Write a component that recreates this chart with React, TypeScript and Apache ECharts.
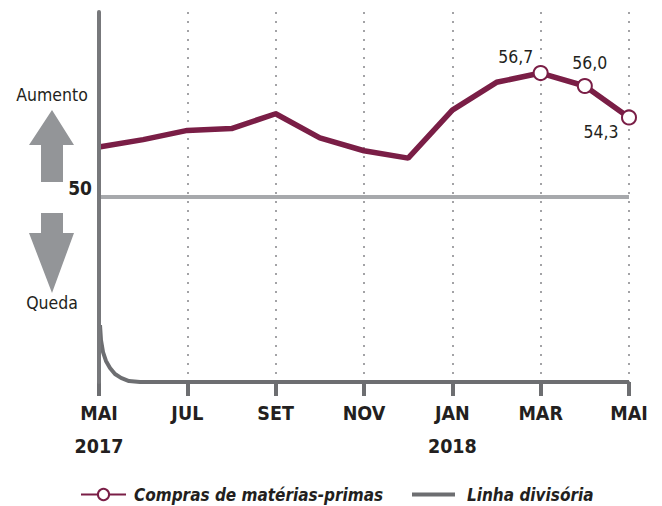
import React, { useEffect, useRef } from "react";
import * as echarts from "echarts";

const months = ["MAI\n2017", "JUN", "JUL", "AGO", "SET", "OUT", "NOV", "DEZ", "JAN\n2018", "FEV", "MAR", "ABR", "MAI"];
const compras = [52.7, 53.1, 53.6, 53.7, 54.5, 53.2, 52.5, 52.1, 54.7, 56.2, 56.7, 56.0, 54.3];
const labeledIdx = [10, 11, 12];
const labelOffsets: Record<number, [number, number]> = { 10: [-25, -16], 11: [5, -23], 12: [-28, 15] };
const divX = [0.023, 0.045, 0.091, 0.158, 0.249, 0.362, 0.498, 0.679, 0.928, 12];
const divY = [43.08, 42.27, 41.62, 41.14, 40.76, 40.43, 40.22, 40.05, 40.0, 40.0];
const baseLevel = 50;
const baseFromX = -1.77;

const FONT = "'Liberation Sans Narrow', 'DejaVu Sans Condensed', sans-serif";
const PURPLE = "#7a1e46";
const DARK = "#6d6e71";
const TEXT = "#231f20";

export default function App() {
  const ref = useRef<HTMLDivElement>(null);
  useEffect(() => {
    if (!ref.current) return;
    const chart = echarts.init(ref.current, null, { renderer: "svg" });
    const comprasData = compras.map((v, i) =>
      labeledIdx.includes(i)
        ? {
            value: v,
            symbol: "emptyCircle",
            symbolSize: 14,
            label: {
              show: true,
              position: "inside",
              offset: labelOffsets[i],
              formatter: v.toFixed(1).replace(".", ","),
              color: TEXT,
              fontSize: 17.5,
              fontFamily: FONT,
            },
          }
        : { value: v, symbol: "none" }
    );
    const legendText = { fontSize: 17, fontWeight: "bold", fontStyle: "italic", color: TEXT, fontFamily: FONT, padding: [0, 0, 0, 3] };
    chart.setOption({
      animation: false,
      textStyle: { fontFamily: FONT },
      grid: { left: 99, right: 33, top: 12, bottom: 124 },
      xAxis: [
        {
          type: "category",
          data: months,
          boundaryGap: false,
          axisLine: { show: false },
          axisTick: { show: true, interval: 1, length: 14, lineStyle: { color: DARK, width: 4 } },
          axisLabel: {
            interval: 1,
            margin: 15,
            fontSize: 19.5,
            fontWeight: "bold",
            lineHeight: 33,
            color: TEXT,
            fontFamily: FONT,
          },
          splitLine: { show: true, interval: 1, lineStyle: { color: "#a3a3a6", width: 2, type: [2, 7] } },
        },
        { type: "value", min: 0, max: 12, show: false },
      ],
      yAxis: {
        type: "value",
        min: 40,
        max: 60,
        interval: 10,
        z: 3,
        axisLine: { show: true, lineStyle: { color: "#77787b", width: 4 } },
        axisTick: { show: false },
        splitLine: { show: false },
        axisLabel: {
          formatter: (v: number) => (v === 50 ? "50" : ""),
          fontSize: 19,
          fontWeight: "bold",
          color: TEXT,
          fontFamily: FONT,
          verticalAlign: "bottom",
          margin: 7,
        },
      },
      legend: [
        {
          left: 75,
          top: 481,
          data: ["Compras de matérias-primas"],
          itemWidth: 45,
          itemHeight: 14,
          textStyle: legendText,
        },
        {
          left: 407,
          top: 481,
          data: ["Linha divisória"],
          icon: "rect",
          itemWidth: 43,
          itemHeight: 4,
          textStyle: { ...legendText, padding: [0, 0, 0, 7] },
        },
      ],
      series: [
        {
          name: "base",
          type: "line",
          xAxisIndex: 1,
          clip: false,
          symbol: "none",
          silent: true,
          z: 1,
          lineStyle: { color: "#a7a9ac", width: 4 },
          data: [
            [baseFromX, baseLevel],
            [12, baseLevel],
          ],
        },
        {
          name: "Linha divisória",
          type: "line",
          xAxisIndex: 1,
          symbol: "none",
          z: 2,
          lineStyle: { color: DARK, width: 4, join: "round" },
          itemStyle: { color: DARK },
          data: divX.map((x, i) => [x, divY[i]]),
        },
        {
          name: "Compras de matérias-primas",
          type: "line",
          symbol: "emptyCircle",
          symbolSize: 14,
          z: 2,
          itemStyle: { color: PURPLE, borderWidth: 2.5 },
          lineStyle: { color: PURPLE, width: 5.5 },
          data: comprasData,
        },
      ],
      graphic: [
        {
          type: "polygon",
          shape: { points: [[52, 110], [74, 145], [63, 145], [63, 182], [41, 182], [41, 145], [29, 145]] },
          style: { fill: "#939598" },
        },
        {
          type: "polygon",
          shape: { points: [[41, 213], [63, 213], [63, 233], [74, 233], [52, 293], [29, 233], [41, 233]] },
          style: { fill: "#939598" },
        },
        {
          type: "text",
          x: 52,
          y: 95,
          style: { text: "Aumento", fill: TEXT, font: `17.5px ${FONT}`, align: "center", verticalAlign: "middle" },
        },
        {
          type: "text",
          x: 52,
          y: 303,
          style: { text: "Queda", fill: TEXT, font: `17.5px ${FONT}`, align: "center", verticalAlign: "middle" },
        },
      ],
    });
    return () => chart.dispose();
  }, []);
  return <div ref={ref} style={{ width: 662, height: 506, position: "absolute", left: 0, top: 0 }} />;
}
